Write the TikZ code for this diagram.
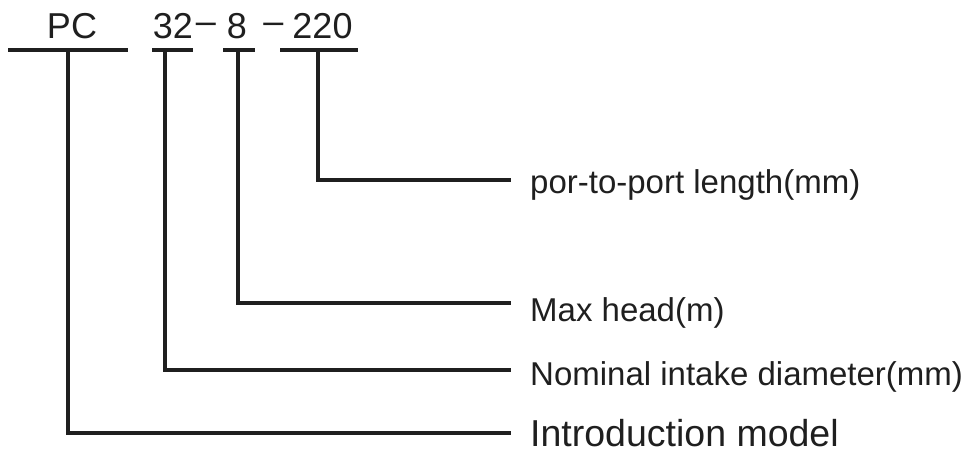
\documentclass[tikz,border=0pt]{standalone}
\usepackage{fontspec}
\setmainfont{Liberation Sans}
\begin{document}
\begin{tikzpicture}[x=1pt,y=1pt,
  ln/.style={line width=3.1pt, color=black!88},
  code/.style={inner sep=0pt, anchor=base, font=\fontsize{36}{40}\selectfont, text=black!88},
  sep/.style={inner sep=0pt, anchor=center, font=\fontsize{36}{40}\selectfont, text=black!88},
  lbl/.style={inner sep=0pt, anchor=base west, text depth=0pt, font=\fontsize{33}{36}\selectfont, text=black!88},
  lblbig/.style={inner sep=0pt, anchor=base west, text depth=0pt, font=\fontsize{37.5}{40}\selectfont, text=black!88}]
\useasboundingbox (0,0) rectangle (973,-452);
% code parts
\node[code] (pc) at (72,-39) {PC};
\node[code] (n32) at (173,-39) {32};
\node[sep] (d1) at (206,-28) {\textendash};
\node[code] (n8) at (237,-39) {8};
\node[sep] (d2) at (273.5,-28) {\textendash};
\node[code] (n220) at (322.5,-39) {220};
% underlines
\coordinate (pcL) at (8,-50);   \coordinate (pcR) at (128,-50);
\coordinate (aL) at (152,-50);  \coordinate (aR) at (193,-50);
\coordinate (bL) at (223,-50);  \coordinate (bR) at (255,-50);
\coordinate (cL) at (280,-50);  \coordinate (cR) at (358,-50);
\draw[ln] (pcL) -- (pcR);
\draw[ln] (aL) -- (aR);
\draw[ln] (bL) -- (bR);
\draw[ln] (cL) -- (cR);
% labels
\node[lbl] (l220) at (530,-193) {por-to-port length(mm)};
\node[lbl] (l8) at (530,-321) {Max head(m)};
\node[lbl] (l32) at (530,-385) {Nominal intake diameter(mm)};
\node[lblbig] (lpc) at (530,-446) {Introduction model};
% connectors
\coordinate (c220t) at (318,-50); \coordinate (c220e) at (511,-180);
\coordinate (c8t) at (238,-50);   \coordinate (c8e) at (511,-303);
\coordinate (c32t) at (165,-50);  \coordinate (c32e) at (511,-370);
\coordinate (cpct) at (68,-50);   \coordinate (cpce) at (511,-433);
\draw[ln] (c220t) |- (c220e);
\draw[ln] (c8t) |- (c8e);
\draw[ln] (c32t) |- (c32e);
\draw[ln] (cpct) |- (cpce);
\end{tikzpicture}
\end{document}
